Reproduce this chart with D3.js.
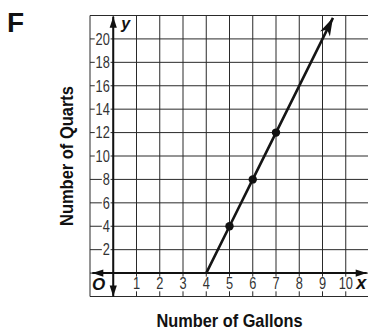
<!DOCTYPE html>
<html>
<head>
<meta charset="utf-8">
<script src="https://cdn.jsdelivr.net/npm/d3@7/dist/d3.min.js"></script>
<style>
  html, body { margin: 0; padding: 0; background: #fff; }
  svg { display: block; }
  .tick-label { font-family: "Liberation Sans", Arial, sans-serif; font-size: 16px; fill: #333; }
  .axis-title { font-family: "Liberation Sans", Arial, sans-serif; font-weight: bold; font-size: 19px; fill: #111; }
  .var-label { font-family: "Liberation Sans", Arial, sans-serif; font-weight: bold; font-style: italic; fill: #111; }
</style>
</head>
<body>
<svg id="chart" width="368" height="330"></svg>
<script>
// Gallons → quarts (4 quarts per gallon), shifted so 4 gallons gives 0 quarts
const gallons = [4, 5, 6, 7];
const quarts = [0, 4, 8, 12];
const markedGallons = [5, 6, 7];
const markedQuarts = [4, 8, 12];
const arrowGallons = 9.45;
const arrowQuarts = 21.8;

const xTickLabels = [1, 2, 3, 4, 5, 6, 7, 8, 9, 10];
const yTickLabels = [2, 4, 6, 8, 10, 12, 14, 16, 18, 20];
const xGridValues = [-1, 0, 1, 2, 3, 4, 5, 6, 7, 8, 9, 10, 11];
const yGridValues = [-2, 0, 2, 4, 6, 8, 10, 12, 14, 16, 18, 20, 22];

const svg = d3.select("#chart");

const x = d3.scaleLinear().domain([-1, 11]).range([90, 369]);
const y = d3.scaleLinear().domain([-2, 22]).range([296.5, 15.5]);

// Arrow markers
const defs = svg.append("defs");
defs.append("marker")
  .attr("id", "axisArrow")
  .attr("viewBox", "-12 -4 13 8")
  .attr("refX", 0).attr("refY", 0)
  .attr("markerUnits", "userSpaceOnUse")
  .attr("markerWidth", 13).attr("markerHeight", 8)
  .attr("orient", "auto-start-reverse")
  .append("path")
  .attr("d", "M0,0 L-11,-3.6 L-11,3.6 Z")
  .attr("fill", "#111");

defs.append("marker")
  .attr("id", "lineArrow")
  .attr("viewBox", "-19 -6 20 12")
  .attr("refX", 0).attr("refY", 0)
  .attr("markerUnits", "userSpaceOnUse")
  .attr("markerWidth", 20).attr("markerHeight", 12)
  .attr("orient", "auto")
  .append("path")
  .attr("d", "M0,0 L-18,-5.5 L-13,0 L-18,5.5 Z")
  .attr("fill", "#111");

// Grid
const grid = svg.append("g").attr("stroke", "#2a2a2a").attr("stroke-width", 1);
grid.selectAll("line.v").data(xGridValues).join("line")
  .attr("class", "v")
  .attr("x1", d => x(d)).attr("x2", d => x(d))
  .attr("y1", y(22)).attr("y2", y(-2));
grid.selectAll("line.h").data(yGridValues).join("line")
  .attr("class", "h")
  .attr("x1", x(-1)).attr("x2", x(11))
  .attr("y1", d => y(d)).attr("y2", d => y(d));

// Tick labels: narrow digits on white patches that break the grid lines
const labelLayer = svg.append("g");
function tickLabel(tx, ty, anchor, str) {
  const g = labelLayer.append("g")
    .attr("transform", `translate(${tx},${ty}) scale(0.8,1)`);
  const t = g.append("text")
    .attr("class", "tick-label")
    .attr("text-anchor", anchor)
    .text(str);
  const b = t.node().getBBox();
  g.insert("rect", "text")
    .attr("x", b.x - 1).attr("y", b.y + 2)
    .attr("width", b.width + 2).attr("height", b.height - 3)
    .attr("fill", "#fff");
}
yTickLabels.forEach(d => tickLabel(x(0) - 3.5, y(d) + 5.8, "end", d));
xTickLabels.forEach(d => tickLabel(x(d), y(-2) - 7.5, "middle", d));

// Axes
svg.append("line")
  .attr("x1", x(-0.9)).attr("x2", x(10.9))
  .attr("y1", y(0)).attr("y2", y(0))
  .attr("stroke", "#111").attr("stroke-width", 2)
  .attr("marker-start", "url(#axisArrow)")
  .attr("marker-end", "url(#axisArrow)");
svg.append("line")
  .attr("x1", x(0)).attr("x2", x(0))
  .attr("y1", y(-2)).attr("y2", y(21.9))
  .attr("stroke", "#111").attr("stroke-width", 2)
  .attr("marker-start", "url(#axisArrow)")
  .attr("marker-end", "url(#axisArrow)");

// Axis variable names and origin
svg.append("text").attr("class", "var-label")
  .attr("x", x(0) + 8).attr("y", y(21) + 2)
  .attr("font-size", 16).text("y");
svg.append("text").attr("class", "var-label")
  .attr("x", x(10.45)).attr("y", y(-2) - 8)
  .attr("font-size", 18).text("x");
svg.append("text").attr("class", "var-label")
  .attr("x", x(-1) + 2).attr("y", y(-2) - 6.5)
  .attr("font-size", 17).text("O");

// Data line with arrow
const lineData = gallons.map((g, i) => [g, quarts[i]]).concat([[arrowGallons, arrowQuarts]]);
svg.append("path")
  .datum(lineData)
  .attr("d", d3.line().x(d => x(d[0])).y(d => y(d[1])))
  .attr("fill", "none")
  .attr("stroke", "#151515")
  .attr("stroke-width", 2.6)
  .attr("marker-end", "url(#lineArrow)");

svg.selectAll("circle.pt").data(markedGallons).join("circle")
  .attr("class", "pt")
  .attr("cx", d => x(d))
  .attr("cy", (d, i) => y(markedQuarts[i]))
  .attr("r", 4.2)
  .attr("fill", "#111");

// Titles
svg.append("text")
  .attr("x", 7).attr("y", 32)
  .attr("font-family", "Liberation Sans, Arial, sans-serif")
  .attr("font-weight", "bold")
  .attr("font-size", 28)
  .attr("fill", "#111")
  .text("F");

svg.append("text").attr("class", "axis-title")
  .attr("x", (x(-1) + x(11)) / 2).attr("y", 327)
  .attr("text-anchor", "middle")
  .attr("textLength", 146)
  .attr("lengthAdjust", "spacingAndGlyphs")
  .text("Number of Gallons");

svg.append("text").attr("class", "axis-title")
  .attr("transform", `translate(73,${(y(-2) + y(22)) / 2}) rotate(-90)`)
  .attr("text-anchor", "middle")
  .attr("textLength", 140)
  .attr("lengthAdjust", "spacingAndGlyphs")
  .text("Number of Quarts");
</script>
</body>
</html>
